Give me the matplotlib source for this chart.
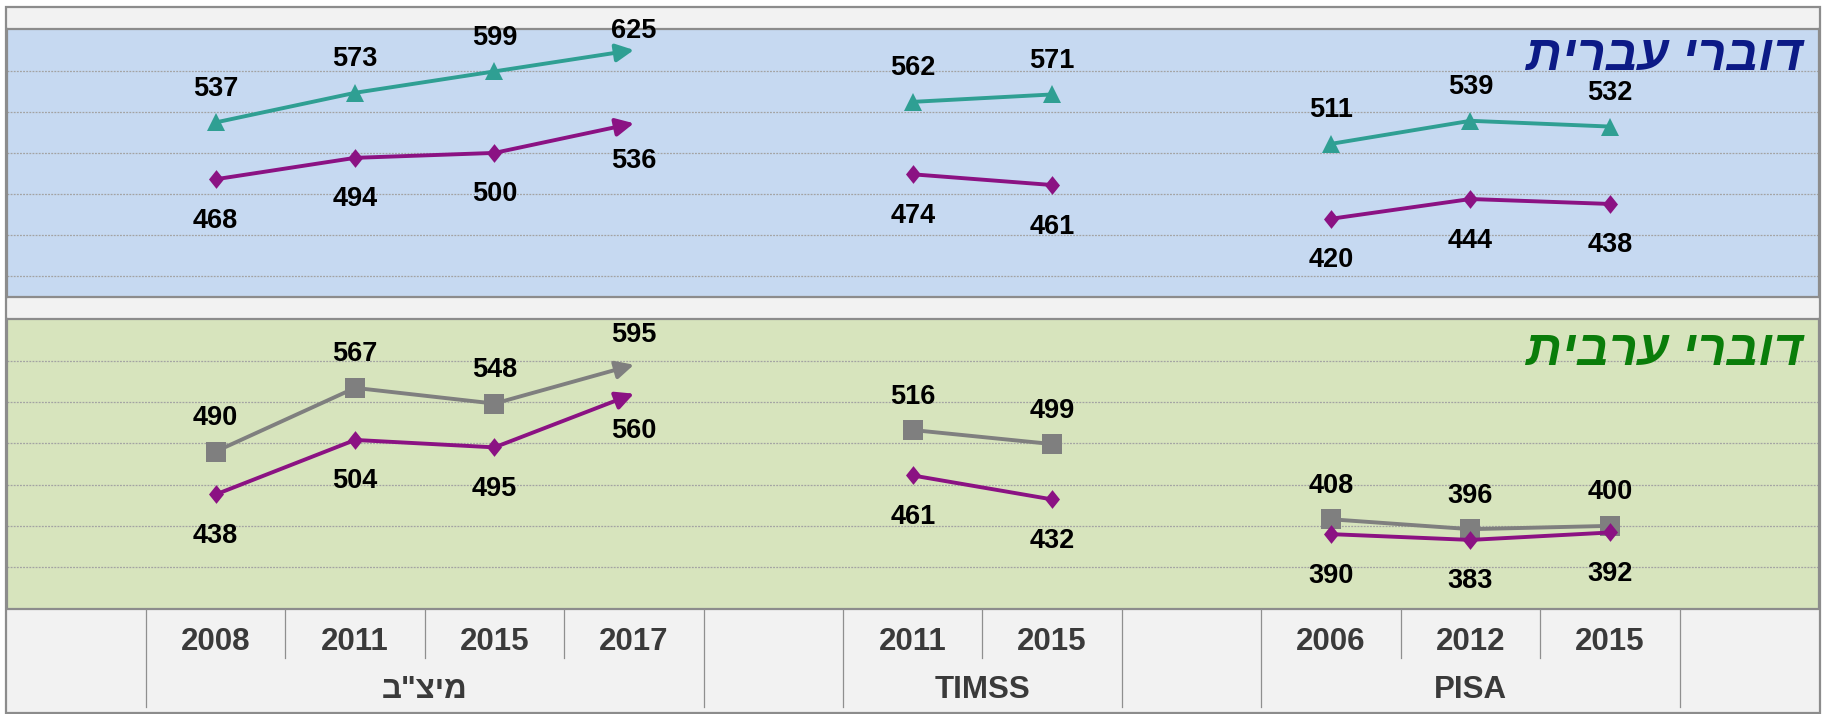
import matplotlib
matplotlib.use('Agg')
import matplotlib.pyplot as plt
from matplotlib.patches import Rectangle
from matplotlib.path import Path

# ---------------- data ----------------
years = ['2008', '2011', '2015', '2017', '2011', '2015', '2006', '2012', '2015']
group_names = ['מיצ"ב', 'TIMSS', 'PISA']
group_sizes = [4, 2, 3]
heb_teal = [537, 573, 599, 625, 562, 571, 511, 539, 532]
heb_purple = [468, 494, 500, 536, 474, 461, 420, 444, 438]
arab_gray = [490, 567, 548, 595, 516, 499, 408, 396, 400]
arab_purple = [438, 504, 495, 560, 461, 432, 390, 383, 392]
title_heb = 'דוברי עברית'
title_arab = 'דוברי ערבית'

# ---------------- styling ----------------
W, H, DPI = 1825, 714, 100
TEAL = '#2f9f93'
PURPLE = '#8b1283'
GRAY = '#7f7f7f'
BORDER = '#8c8c8c'
LABEL_FONT = ['Liberation Sans', 'DejaVu Sans']


def vis(s):
    """Hebrew text to visual (left-to-right) order for rendering."""
    if any('\u0590' <= c <= '\u05ff' for c in s):
        return s[::-1]
    return s


# category layout: one blank category before each group and one at the end
pos = []
group_spans = []
idx = 0
for size in group_sizes:
    idx += 1
    group_spans.append((idx, idx + size - 1))
    pos.extend(range(idx, idx + size))
    idx += size
ncat = idx + 1

fig = plt.figure(figsize=(W / DPI, H / DPI), dpi=DPI)
fig.patch.set_facecolor('white')


def fx(px):
    return px / W


def fy(py):
    return 1 - py / H


# outer frame
fig.add_artist(Rectangle((fx(6), fy(712.5)), fx(1820) - fx(6), fy(6.5) - fy(712.5),
                         transform=fig.transFigure, facecolor='#f2f2f2',
                         edgecolor=BORDER, lw=1.6, zorder=0))

L, R = 6.5, 1819
ax_top = fig.add_axes([fx(L), fy(297), fx(R) - fx(L), fy(29.4) - fy(297)])
ax_bot = fig.add_axes([fx(L), fy(608.5), fx(R) - fx(L), fy(319.3) - fy(608.5)])
ax_x = fig.add_axes([fx(L), fy(712), fx(R) - fx(L), fy(608.5) - fy(712)])

for ax, lo, bg in [(ax_top, 325, '#c6d9f1'), (ax_bot, 300, '#d7e4bd')]:
    ax.set_xlim(-0.5, ncat - 0.5)
    ax.set_ylim(lo, 650)
    ax.set_facecolor(bg)
    ax.set_yticks([350, 400, 450, 500, 550, 600])
    ax.set_xticks([])
    ax.tick_params(axis='y', length=0, labelleft=False)
    ax.grid(axis='y', color='#a3a3a3', linestyle=(0, (1.5, 1.0)), lw=0.9)
    ax.set_axisbelow(True)
    for sp in ax.spines.values():
        sp.set_color(BORDER)
        sp.set_linewidth(1.6)

diamond = Path([(0, 1), (0.8, 0), (0, -1), (-0.8, 0), (0, 1)],
               [Path.MOVETO, Path.LINETO, Path.LINETO, Path.LINETO, Path.CLOSEPOLY])

TEXT_SHIFT = 3.5  # px: text box center sits above digit center


def draw_series(ax, vals, color, marker, ms, side):
    labels = []
    start = 0
    for g, size in enumerate(group_sizes):
        xs = pos[start:start + size]
        ys = vals[start:start + size]
        if g == 0:
            ax.plot(xs[:-1], ys[:-1], color=color, lw=2.8, marker=marker, ms=ms,
                    markeredgewidth=0, solid_capstyle='butt', zorder=3)
            ax.annotate('', xy=(xs[-1], ys[-1]), xytext=(xs[-2], ys[-2]),
                        arrowprops=dict(arrowstyle='-|>,head_length=0.9,head_width=0.45',
                                        color=color, lw=2.8, shrinkA=0, shrinkB=0,
                                        mutation_scale=12), zorder=3)
            kinds = ['m'] * (size - 1) + ['a']
        else:
            ax.plot(xs, ys, color=color, lw=2.8, marker=marker, ms=ms,
                    markeredgewidth=0, zorder=3)
            kinds = ['m'] * size
        for x, y, k in zip(xs, ys, kinds):
            labels.append((x, y, k))
        start += size
    # data labels
    for x, y, k in labels:
        px, py = ax.transData.transform((x, y))
        off = 37 if k == 'm' else 33
        ly = py + off if side == 'above' else py - off - 1
        ly = min(ly, H - 28)
        ly -= TEXT_SHIFT
        fig.text(px / W, ly / H, str(y), ha='center', va='center', fontsize=19.5,
                 fontweight='bold', family=LABEL_FONT, color='black', zorder=5)


draw_series(ax_top, heb_teal, TEAL, '^', 12.5, 'above')
draw_series(ax_top, heb_purple, PURPLE, diamond, 13.5, 'below')
draw_series(ax_bot, arab_gray, GRAY, 's', 14, 'above')
draw_series(ax_bot, arab_purple, PURPLE, diamond, 13.5, 'below')

# titles
fig.text(fx(1803), fy(57), vis(title_heb), ha='right', va='center', fontsize=36,
         fontweight='bold', style='italic', color='#0c1a86', family=LABEL_FONT)
fig.text(fx(1803), fy(352), vis(title_arab), ha='right', va='center', fontsize=36,
         fontweight='bold', style='italic', color='#0a7d0a', family=LABEL_FONT)

# multi-level category axis
ax_x.set_xlim(-0.5, ncat - 0.5)
ax_x.set_ylim(712, 608.5)
ax_x.axis('off')
long_b = set()
for s, e in group_spans:
    long_b.add(s - 0.5)
    long_b.add(e + 0.5)
for b in [i + 0.5 for i in range(ncat - 1)]:
    inside = any(s <= b <= e for s, e in group_spans)
    if b in long_b:
        ax_x.plot([b, b], [608.5, 707], color='#8f8f8f', lw=0.9)
    elif inside:
        ax_x.plot([b, b], [608.5, 658], color='#8f8f8f', lw=0.9)
for p, yr in zip(pos, years):
    ax_x.text(p, 641.5, yr, ha='center', va='center', fontsize=22.5, fontweight='bold',
              color='#3a3a3a', family=LABEL_FONT)
for (s, e), name in zip(group_spans, group_names):
    ax_x.text((s + e) / 2, 690.5, vis(name), ha='center', va='center', fontsize=22.5,
              fontweight='bold', color='#3a3a3a', family=LABEL_FONT)

fig.savefig('out.png', dpi=DPI)
